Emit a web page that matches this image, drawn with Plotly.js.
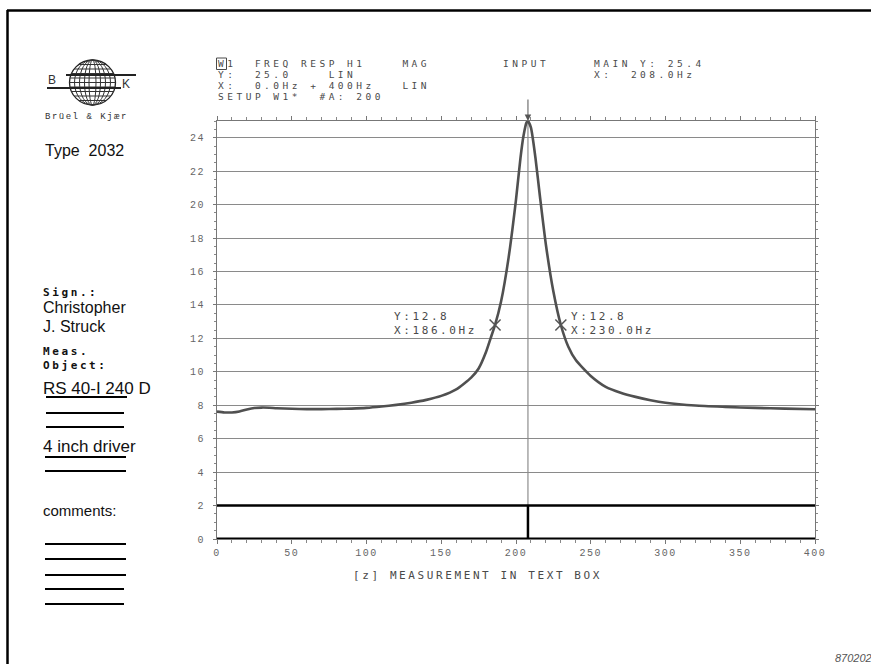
<!DOCTYPE html>
<html><head><meta charset="utf-8">
<script src="https://cdn.plot.ly/plotly-3.0.1.min.js"></script>
<style>
html,body{margin:0;padding:0;background:#fff;}
#chart{width:871px;height:664px;}
text[style*="DejaVu Sans Mono"]{letter-spacing:2.6px;}
text[style*="DejaVu Sans Mono"][style*="font-size: 9.5px"]{letter-spacing:3.5px;}
text[style*="Liberation Mono"]{letter-spacing:1.5px;}
</style></head><body><div id="chart"></div>
<script>
// ---- data ----
const freqHz = [0,5,10,15,20,25,30,35,40,50,60,70,80,90,100,110,120,130,140,150,160,170,175,180,183,186,190,195,200,203,205,207,208,210,213,216,220,225,230,235,240,250,260,270,280,290,300,320,340,360,380,400];
const magnitude = [7.62,7.57,7.57,7.63,7.75,7.84,7.86,7.85,7.82,7.79,7.77,7.77,7.78,7.80,7.84,7.92,8.02,8.15,8.32,8.56,8.95,9.65,10.2,11.2,12.0,12.8,14.2,16.8,20.3,22.8,24.1,24.9,25.0,24.6,22.8,20.5,17.6,14.8,12.8,11.5,10.7,9.75,9.1,8.75,8.5,8.3,8.15,7.98,7.9,7.84,7.8,7.76];
const markerX = [186, 230];
const markerY = [12.8, 12.8];
const markerLabels = ['Y:12.8<br>X:186.0Hz', 'Y:12.8<br>X:230.0Hz'];
const cursorX = [208];
const refLevel = [2];
const xTicks = [0,50,100,150,200,250,300,350,400];
const yTicks = [0,2,4,6,8,10,12,14,16,18,20,22,24];
const headerRows = [
  ['W1  FREQ RESP H1    MAG', 'INPUT', 'MAIN Y: 25.4'],
  ['Y:  25.0    LIN', '', 'X:  208.0Hz'],
  ['X:  0.0Hz + 400Hz   LIN', '', ''],
  ['SETUP W1*  #A: 200', '', '']
];
const panelTexts = ['Sign.:','Christopher','J. Struck','Meas.','Object:','RS 40-I 240 D','4 inch driver','comments:'];

// ---- pixel helpers for decoration placement ----
const L=217, R=815, T=121, B=539;
const px = x => (x-L)/(R-L);
const py = y => (B-y)/(B-T);
const nb = s => s.replace(/ /g,'\u00a0');

const MONO = 'DejaVu Sans Mono';
const MONO2 = 'Liberation Mono';
const SANS = 'Liberation Sans, Arial, sans-serif';
const gray = '#4a4a4a';

const annotations = [];
function ann(text, x, y, font, extra){
  annotations.push(Object.assign({text:text, xref:'paper', yref:'paper', x:px(x), y:py(y),
    xanchor:'left', yanchor:'middle', showarrow:false, align:'left', font:font, borderpad:0, borderwidth:0}, extra||{}));
}
// header
const rowY = [63.5, 74.5, 85.5, 96.5];
const colX = [218, 503, 594];
headerRows.forEach((row,i)=>row.forEach((t,j)=>{ if(t) ann(nb(t), colX[j], rowY[i], {family:MONO,size:9.5,color:gray}); }));
// marker labels
ann(markerLabels[0], 394, 323.5, {family:MONO,size:11,color:gray});
ann(markerLabels[1], 571, 323.5, {family:MONO,size:11,color:gray});
// x title
ann(nb('[z] MEASUREMENT IN TEXT BOX'), 353, 575, {family:MONO,size:11,color:gray});
// left panel
ann('Brüel & Kjær', 45, 117, {family:MONO2,size:9,color:'#333'});
ann('B', 48, 80, {family:SANS,size:12,color:'#333'});
ann('K', 122, 84, {family:SANS,size:12,color:'#333'});
ann(nb('Type  2032'), 45, 150, {family:SANS,size:16,color:'#111'});
const panelY = [292, 307, 326, 351, 365, 388, 446, 510];
const panelFonts = [
  {family:MONO,size:11,color:'#111',weight:'bold'},
  {family:SANS,size:16,color:'#111'},
  {family:SANS,size:16,color:'#111'},
  {family:MONO,size:11,color:'#111',weight:'bold'},
  {family:MONO,size:11,color:'#111',weight:'bold'},
  {family:SANS,size:17,color:'#111'},
  {family:SANS,size:17,color:'#111'},
  {family:SANS,size:15,color:'#111'}
];
panelTexts.forEach((t,i)=>ann(nb(t), 43, panelY[i], panelFonts[i]));
// page id bottom right
ann('870202', 835, 658, {family:SANS,size:11,color:'#555',style:'italic'});
// cursor arrow
annotations.push({x:cursorX[0], y:25, xref:'x', yref:'y', text:'', showarrow:true, ax:0, ay:-23,
  arrowhead:2, arrowsize:1.3, arrowwidth:1, arrowcolor:'#555'});

// ---- shapes ----
const shapes = [];
function pline(x0,y0,x1,y1,w,c){ shapes.push({type:'line',xref:'paper',yref:'paper',x0:px(x0),y0:py(y0),x1:px(x1),y1:py(y1),line:{width:w,color:c||'#000'}}); }
// page frame
pline(7,10.5,875,10.5,2.5);
pline(7.5,10,7.5,670,2.5);
// form lines
[[46,397,127],[46,413,124],[46,427,124],[45,457,126],[45,471,126],[45,544,126],[45,559,126],[45,575,126],[45,589,124],[45,604,124]]
  .forEach(l=>pline(l[0],l[1],l[2],l[1],2));
// W box
shapes.push({type:'rect',xref:'paper',yref:'paper',x0:px(216.5),x1:px(226.5),y0:py(58),y1:py(69.5),line:{width:1,color:gray}});
// globe logo
const gx=92.5, gy=82.5, gr=23, gry=22.5;
shapes.push({type:'circle',xref:'paper',yref:'paper',x0:px(gx-gr),x1:px(gx+gr),y0:py(gy-gry),y1:py(gy+gry),line:{width:1.3,color:'#222'}});
[18,13,8,3.5].forEach(rx=>shapes.push({type:'circle',xref:'paper',yref:'paper',x0:px(gx-rx),x1:px(gx+rx),y0:py(gy-gry),y1:py(gy+gry),line:{width:1,color:'#333'}}));
[-18,-13.5,-9,-4.5,0,4.5,9,13.5,18].forEach(dy=>{ const hw=gr*Math.sqrt(1-(dy/gry)*(dy/gry)); pline(gx-hw,gy+dy,gx+hw,gy+dy,1,'#333'); });
pline(47,88,121,88,2,'#222');
pline(66,75,136,75,2,'#222');
// reference and cursor lines (data coords)
shapes.push({type:'line',xref:'x',yref:'y',x0:0,x1:400,y0:refLevel[0],y1:refLevel[0],line:{width:2.5,color:'#000'}});
shapes.push({type:'line',xref:'x',yref:'y',x0:0,x1:400,y0:0,y1:0,line:{width:3,color:'#000'}});
shapes.push({type:'line',xref:'x',yref:'y',x0:cursorX[0],x1:cursorX[0],y0:0,y1:refLevel[0],line:{width:2.5,color:'#000'}});
shapes.push({type:'line',xref:'x',yref:'y',x0:cursorX[0],x1:cursorX[0],y0:refLevel[0],y1:25,line:{width:1,color:'#777'},layer:'below'});

const traces = [
  {x:freqHz, y:magnitude, type:'scatter', mode:'lines', line:{color:'#505050', width:2.6, shape:'spline', smoothing:0.6}, hoverinfo:'skip', cliponaxis:true},
  {x:markerX, y:markerY, type:'scatter', mode:'markers', marker:{symbol:'x-thin-open', size:11, line:{width:1.5,color:'#555'}, color:'#555'}, hoverinfo:'skip'}
];

const tickFont = {family:MONO2, size:10, color:'#666'};
const layout = {
  width:871, height:664,
  margin:{l:L, r:871-R, t:T, b:664-B, pad:0},
  paper_bgcolor:'#fff', plot_bgcolor:'#fff',
  showlegend:false,
  xaxis:{range:[0,400], tickvals:xTicks, ticktext:xTicks.map(String), ticks:'outside', ticklen:4, tickwidth:1, tickcolor:'#777',
    showline:true, linecolor:'#777', linewidth:1, mirror:'allticks', showgrid:false, zeroline:false, tickfont:tickFont,
    minor:{dtick:10, ticks:'outside', ticklen:3, tickcolor:'#888', showgrid:false}, fixedrange:true},
  yaxis:{range:[0,25], tickvals:yTicks, ticktext:yTicks.map(String), ticks:'outside', ticklen:3, tickwidth:1, tickcolor:'#777',
    showline:true, linecolor:'#777', linewidth:1, mirror:'allticks', showgrid:true, gridcolor:'#8a8a8a', gridwidth:1, zeroline:false,
    tickfont:tickFont, ticklabelstandoff:6,
    minor:{dtick:0.5, ticks:'outside', ticklen:2, tickcolor:'#888', showgrid:false}, fixedrange:true},
  shapes:shapes,
  annotations:annotations
};
Plotly.newPlot('chart', traces, layout, {displayModeBar:false, staticPlot:true});
</script></body></html>
